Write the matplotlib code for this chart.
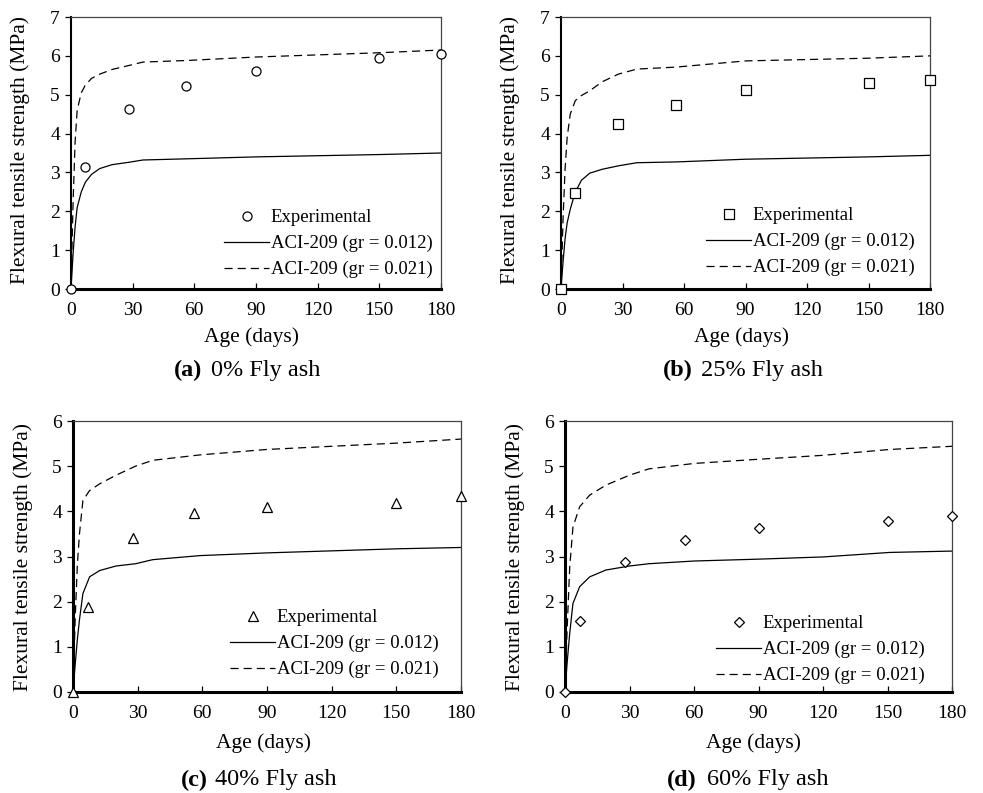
import numpy as np
import matplotlib
matplotlib.use('Agg')
import matplotlib.pyplot as plt

plt.rcParams['font.family'] = ['Liberation Serif', 'DejaVu Serif']

# experimental ages (days)
exp_age = [0, 7, 28, 56, 90, 150, 180]

# experimental flexural tensile strength (MPa)
exp_a = [0, 3.13, 4.64, 5.23, 5.61, 5.95, 6.05]
exp_b = [0, 2.48, 4.25, 4.73, 5.11, 5.30, 5.39]
exp_c = [0, 1.88, 3.41, 3.96, 4.10, 4.19, 4.33]
exp_d = [0, 1.58, 2.87, 3.36, 3.62, 3.79, 3.90]

# ACI-209 curves
aci_age_a = [0, 1, 2, 3, 5, 7, 10, 14, 20, 28, 35, 56, 90, 150, 180]
aci_lo_a = [0, 0.9, 1.6, 2.1, 2.5, 2.75, 2.95, 3.1, 3.2, 3.26, 3.32, 3.35, 3.40, 3.46, 3.50]
aci_hi_a = [0, 2.2, 3.8, 4.6, 5.05, 5.25, 5.42, 5.53, 5.65, 5.75, 5.84, 5.88, 5.97, 6.08, 6.15]

aci_age_b = [0, 1, 2, 3, 4.5, 7, 10, 14, 20, 28, 37, 56, 90, 150, 180]
aci_lo_b = [0, 0.7, 1.3, 1.7, 2.05, 2.5, 2.8, 2.98, 3.08, 3.17, 3.25, 3.27, 3.34, 3.40, 3.44]
aci_hi_b = [0, 1.8, 3.1, 3.9, 4.5, 4.85, 4.98, 5.1, 5.33, 5.53, 5.66, 5.71, 5.87, 5.94, 6.00]

aci_age_c = [0, 1, 2, 3, 4.6, 7.7, 12.4, 20, 29, 37, 59, 90, 150, 180]
aci_lo_c = [0, 0.6, 1.15, 1.6, 2.18, 2.55, 2.69, 2.79, 2.84, 2.93, 3.02, 3.08, 3.17, 3.20]
aci_hi_c = [0, 1.6, 2.8, 3.5, 4.24, 4.46, 4.61, 4.80, 5.00, 5.13, 5.25, 5.37, 5.51, 5.60]

aci_age_d = [0, 1, 2.2, 3.7, 6.8, 11.5, 19, 30, 39, 60, 89, 120, 151, 180]
aci_lo_d = [0, 0.65, 1.3, 1.96, 2.33, 2.55, 2.70, 2.79, 2.84, 2.90, 2.94, 2.99, 3.09, 3.12]
aci_hi_d = [0, 1.4, 2.77, 3.65, 4.10, 4.36, 4.58, 4.80, 4.94, 5.06, 5.15, 5.24, 5.37, 5.44]

x_ticks = [0, 30, 60, 90, 120, 150, 180]
leg_labels = ['Experimental', 'ACI-209 (gr = 0.012)', 'ACI-209 (gr = 0.021)']

W, H = 983, 793
fig = plt.figure(figsize=(W / 100, H / 100), dpi=100)


def box(l, r, t, b):
    return [l / W, 1 - b / H, (r - l) / W, (b - t) / H]


panels = [
    dict(rect=box(71, 441, 17, 289), ymax=7, exp=exp_a, age=aci_age_a, lo=aci_lo_a, hi=aci_hi_a,
         mk='o', ms=6.5, leg=(224, 209), ylab=(20, 150), xlab=(251, 337),
         cap=(202, 211, 370), tag='(a)', txt='0% Fly ash', lw_left=1.5),
    dict(rect=box(561, 930, 17, 289), ymax=7, exp=exp_b, age=aci_age_b, lo=aci_lo_b, hi=aci_hi_b,
         mk='s', ms=6.5, leg=(706, 207), ylab=(510, 150), xlab=(741, 337),
         cap=(693, 701, 370), tag='(b)', txt='25% Fly ash', lw_left=1.5),
    dict(rect=box(73, 461, 421, 692), ymax=6, exp=exp_c, age=aci_age_c, lo=aci_lo_c, hi=aci_hi_c,
         mk='^', ms=6.5, leg=(230, 609), ylab=(23, 557), xlab=(263, 743),
         cap=(208, 215, 780), tag='(c)', txt='40% Fly ash', lw_left=2.2),
    dict(rect=box(565, 952, 421, 692), ymax=6, exp=exp_d, age=aci_age_d, lo=aci_lo_d, hi=aci_hi_d,
         mk='D', ms=5.5, leg=(716, 615), ylab=(515, 557), xlab=(753, 743),
         cap=(697, 707, 780), tag='(d)', txt='60% Fly ash', lw_left=2.2),
]

for p in panels:
    ax = fig.add_axes(p['rect'])
    ax.plot(exp_age, p['exp'], linestyle='none', marker=p['mk'], ms=p['ms'],
            mfc='white', mec='black', mew=0.9, label=leg_labels[0], zorder=5, clip_on=False)
    ax.plot(p['age'], p['lo'], color='black', lw=0.9, label=leg_labels[1])
    ax.plot(p['age'], p['hi'], color='black', lw=0.9, ls=(0, (6.5, 4)), label=leg_labels[2])

    ax.set_xlim(0, 180)
    ax.set_ylim(0, p['ymax'])
    ax.set_xticks(x_ticks)
    ax.set_yticks(range(0, p['ymax'] + 1))
    ax.tick_params(axis='y', direction='out', length=4, width=0.9, labelsize=14, pad=4)
    ax.tick_params(axis='x', direction='in', length=4, width=0.9, labelsize=14, pad=9)
    ax.spines['bottom'].set_linewidth(2.2)
    ax.spines['left'].set_linewidth(p['lw_left'])
    ax.spines['top'].set_linewidth(0.9)
    ax.spines['right'].set_linewidth(0.9)
    ax.spines['top'].set_color('#444444')
    ax.spines['right'].set_color('#444444')
    for sp in ax.spines.values():
        sp.set_zorder(4)

    lx, ly = p['leg']
    ax.legend(loc='upper left', bbox_to_anchor=(lx / W, 1 - ly / H), bbox_transform=fig.transFigure,
              frameon=False, fontsize=13.5, handlelength=2.4, handletextpad=0.1,
              labelspacing=0.47, borderpad=0, borderaxespad=0)

    fig.text(p['ylab'][0] / W, 1 - p['ylab'][1] / H, 'Flexural tensile strength (MPa)',
             rotation=90, ha='center', va='center', fontsize=15.5)
    fig.text(p['xlab'][0] / W, 1 - p['xlab'][1] / H, 'Age (days)',
             ha='center', va='center', fontsize=15.5)
    cx1, cx2, cy = p['cap']
    fig.text(cx1 / W, 1 - cy / H, p['tag'], ha='right', va='center', fontsize=17.5, fontweight='bold')
    fig.text(cx2 / W, 1 - cy / H, p['txt'], ha='left', va='center', fontsize=17.5)

fig.savefig('out.png', dpi=100)
